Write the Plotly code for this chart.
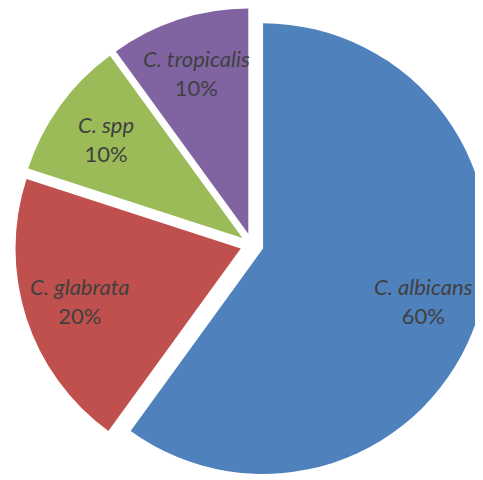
import math
import plotly.graph_objects as go

species = ["C. albicans", "C. glabrata", "C. spp", "C. tropicalis"]
shares = [60, 20, 10, 10]
colors = ["#4F81BD", "#C0504D", "#9BBB59", "#8064A2"]

W, H = 483, 480
pull = 0.052
dom_x = [0.01, 1.0]
dom_y = [0.0125, 1.0]

fig = go.Figure(
    go.Pie(
        labels=species,
        values=shares,
        sort=False,
        direction="clockwise",
        rotation=0,
        pull=[pull] * len(shares),
        marker=dict(colors=colors, line=dict(width=0)),
        textinfo="none",
        hoverinfo="label+percent",
        domain=dict(x=dom_x, y=dom_y),
    )
)

# labels sit on each slice bisector, same geometry plotly uses for the pie
r = min(W * (dom_x[1] - dom_x[0]), H * (dom_y[1] - dom_y[0])) / 2 / (1 + pull)
cx = W * (dom_x[0] + dom_x[1]) / 2
cy = H * (1 - (dom_y[0] + dom_y[1]) / 2)
total = sum(shares)
start = 0
for name, v in zip(species, shares):
    mid = (start + v / 2) / total * 2 * math.pi
    start += v
    d = pull * r + 0.75 * r
    x = cx + d * math.sin(mid)
    y = cy - d * math.cos(mid)
    fig.add_annotation(
        x=x / W, y=1 - y / H, xref="paper", yref="paper",
        xanchor="center", yanchor="middle",
        text=f"<i>{name}</i><br>{round(v / total * 100)}%",
        showarrow=False,
        font=dict(family="Lato, Open Sans, sans-serif", size=22, color="#404040"),
    )

fig.update_layout(
    width=W,
    height=H,
    margin=dict(l=0, r=0, t=0, b=0),
    showlegend=False,
    paper_bgcolor="white",
)

fig.write_html("out.html")
